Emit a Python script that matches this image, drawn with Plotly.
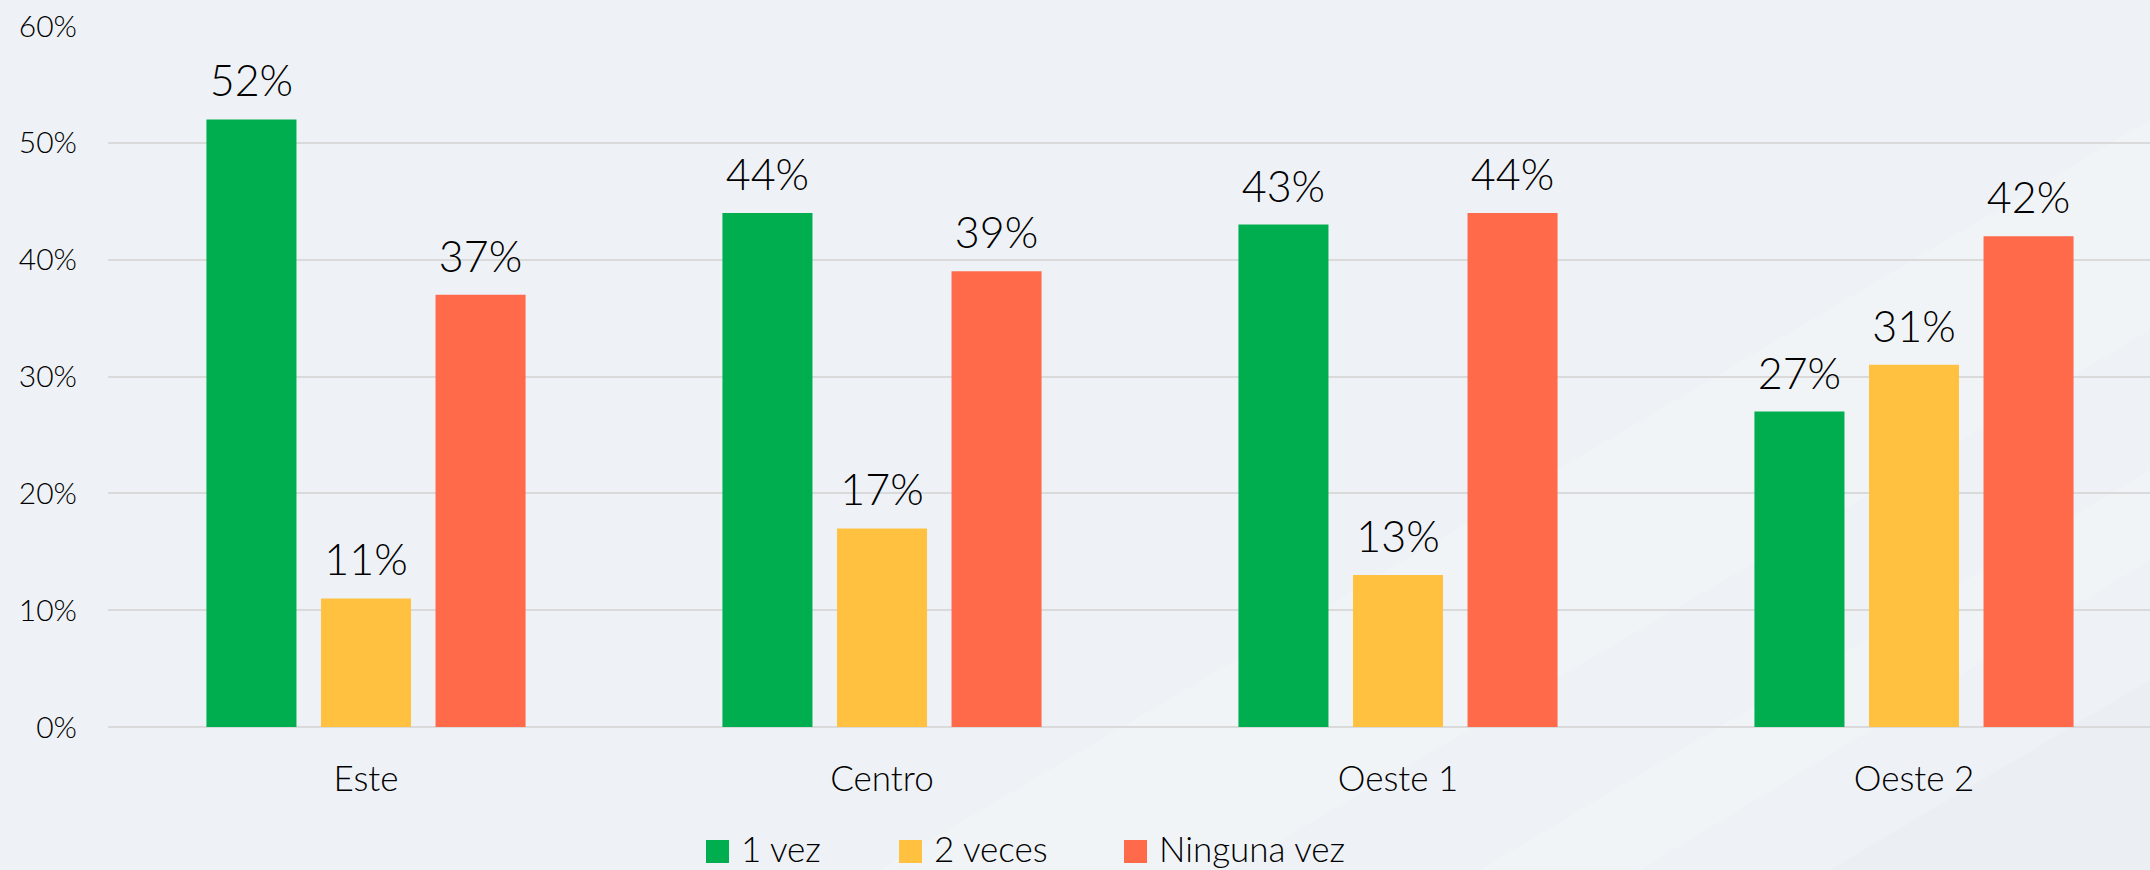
import plotly.graph_objects as go

# Survey results by zone
zonas = ["Este", "Centro", "Oeste 1", "Oeste 2"]
series_names = ["1 vez", "2 veces", "Ninguna vez"]
una_vez = [52, 44, 43, 27]
dos_veces = [11, 17, 13, 31]
ninguna_vez = [37, 39, 44, 42]
y_ticks = [0, 10, 20, 30, 40, 50, 60]
y_tick_labels = ["0%", "10%", "20%", "30%", "40%", "50%", "60%"]

colors = ["#00AE4F", "#FFC13F", "#FF6A4B"]
values = [una_vez, dos_veces, ninguna_vez]

W, H = 2150, 870
ML, MR, MT, MB = 108, 0, 26, 143
FONT = "Lato"
WEIGHT = 300
BARGAP = 0.334

fig = go.Figure()
for i, (name, vals, col) in enumerate(zip(series_names, values, colors)):
    fig.add_trace(go.Bar(
        x=zonas, y=vals, name=name,
        marker=dict(color=col, line=dict(width=0)),
        offsetgroup=str(i),
        showlegend=False,
    ))
# value labels placed above each bar, aligned with the bar groups
for i, (name, vals) in enumerate(zip(series_names, values)):
    fig.add_trace(go.Scatter(
        x=zonas, y=vals, name=name,
        mode="markers+text",
        marker=dict(size=18, opacity=0),
        text=[f"{v}%" for v in vals],
        textposition="top center",
        textfont=dict(family=FONT, size=43, color="#000000", weight=WEIGHT),
        offsetgroup=str(i),
        cliponaxis=False,
        showlegend=False,
        hoverinfo="skip",
    ))

# helpers to convert pixel positions into paper coordinates
pw = W - ML - MR
ph = H - MT - MB


def px_x(x):
    return (x - ML) / pw


def px_y(y):
    return (H - MB - y) / ph


shapes = []
annotations = []

# soft diagonal streaks in the background
streaks = [
    ([(880, 870), (2150, 120), (2150, 330), (1230, 870)], "rgba(255,255,255,0.18)"),
    ([(1480, 870), (2150, 470), (2150, 560), (1640, 870)], "rgba(255,255,255,0.15)"),
    ([(1830, 870), (2150, 680), (2150, 870)], "rgba(200,205,220,0.08)"),
]
for pts, fc in streaks:
    path = "M " + " L ".join(f"{px_x(x)},{px_y(y)}" for x, y in pts) + " Z"
    shapes.append(dict(type="path", xref="paper", yref="paper", path=path,
                       fillcolor=fc, line=dict(width=0), layer="below"))

# legend drawn as squares with labels
legend_x = [706, 899, 1124]
sq = 23
sq_top = 840
for name, col, lx in zip(series_names, colors, legend_x):
    shapes.append(dict(type="rect", xref="paper", yref="paper",
                       x0=px_x(lx), x1=px_x(lx + sq),
                       y0=px_y(sq_top + sq), y1=px_y(sq_top),
                       fillcolor=col, line=dict(width=0)))
    annotations.append(dict(xref="paper", yref="paper",
                            x=px_x(lx + sq + 10), y=px_y(sq_top + sq / 2 - 4),
                            xanchor="left", yanchor="middle", showarrow=False,
                            text=name,
                            font=dict(family=FONT, size=35, color="#000000", weight=WEIGHT)))

fig.update_layout(
    width=W, height=H,
    margin=dict(l=ML, r=MR, t=MT, b=MB, pad=0),
    paper_bgcolor="#EEF2F6",
    plot_bgcolor="rgba(0,0,0,0)",
    barmode="group",
    bargap=BARGAP,
    bargroupgap=0.214,
    scattermode="group",
    scattergap=BARGAP,
    font=dict(family=FONT, color="#000000", weight=WEIGHT),
    shapes=shapes,
    annotations=annotations,
    showlegend=False,
    xaxis=dict(
        type="category",
        range=[-0.5, -0.5 + pw / 516],
        showgrid=False, showline=False, ticks="",
        tickfont=dict(family=FONT, size=35, color="#000000", weight=WEIGHT),
        ticklabelstandoff=28,
    ),
    yaxis=dict(
        range=[0, 60],
        tickvals=y_ticks, ticktext=y_tick_labels,
        showgrid=True, gridcolor="#DADADA", gridwidth=2,
        zeroline=True, zerolinecolor="#DADADA", zerolinewidth=2,
        showline=False, ticks="",
        tickfont=dict(family=FONT, size=30, color="#000000", weight=WEIGHT),
        ticklabelstandoff=30,
    ),
)

fig.write_html("out.html")
